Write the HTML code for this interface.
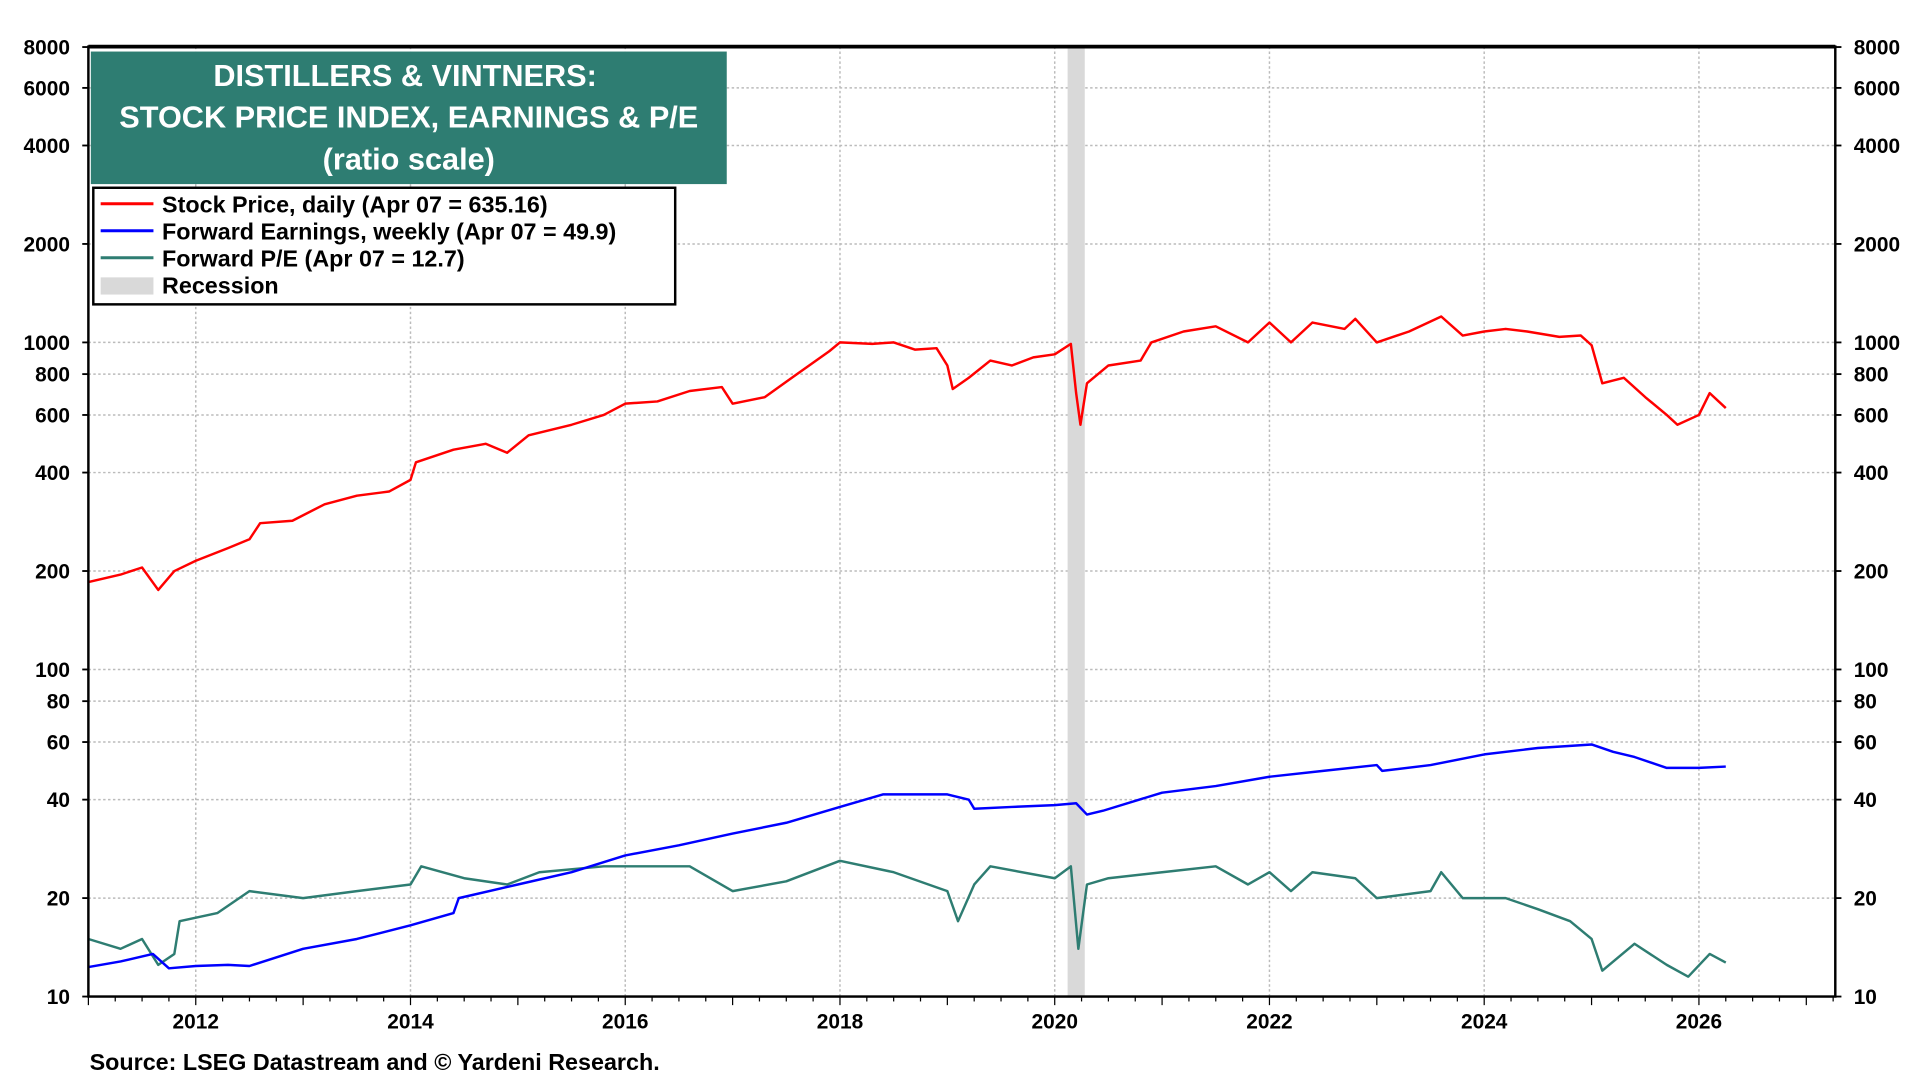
<!DOCTYPE html>
<html><head><meta charset="utf-8"><style>
html,body{margin:0;padding:0;background:#fff;width:1920px;height:1080px;overflow:hidden}
svg text{font-family:"Liberation Sans",Arial,sans-serif;font-weight:bold}
</style></head><body>
<svg id="chart" width="1920" height="1080" viewBox="0 0 1564 880" preserveAspectRatio="none" xmlns="http://www.w3.org/2000/svg">
<g id="grid"></g>
<rect id="rec" fill="#d9d9d9"/>
<g id="series"></g>
<rect x="72" y="38" width="1423" height="774" fill="none" stroke="#000" stroke-width="2"/>
<line x1="72" y1="38" x2="1495" y2="38" stroke="#000" stroke-width="3"/>
<g id="axes"></g>
<g>
<rect x="74" y="42" width="518" height="108" fill="#2e7d72"/>
<text x="330" y="70" fill="#fff" font-size="25" text-anchor="middle">DISTILLERS &amp; VINTNERS:</text>
<text x="333" y="104" fill="#fff" font-size="25" text-anchor="middle">STOCK PRICE INDEX, EARNINGS &amp; P/E</text>
<text x="333" y="138" fill="#fff" font-size="25" text-anchor="middle">(ratio scale)</text>
</g>
<g>
<rect x="76" y="153" width="474" height="95" fill="#fff" stroke="#000" stroke-width="2"/>
<line x1="82" y1="166" x2="125" y2="166" stroke="#ff0000" stroke-width="2.5"/>
<text x="132" y="173" font-size="19">Stock Price, daily (Apr 07 = 635.16)</text>
<line x1="82" y1="188" x2="125" y2="188" stroke="#0000ff" stroke-width="2.5"/>
<text x="132" y="195" font-size="19">Forward Earnings, weekly (Apr 07 = 49.9)</text>
<line x1="82" y1="210" x2="125" y2="210" stroke="#2e7d72" stroke-width="2.5"/>
<text x="132" y="217" font-size="19">Forward P/E (Apr 07 = 12.7)</text>
<rect x="82" y="226" width="43" height="14" fill="#d9d9d9"/>
<text x="132" y="239" font-size="19">Recession</text>
</g>
<text x="73" y="872" font-size="19">Source: LSEG Datastream and © Yardeni Research.</text>
</svg>
<script>
const priceX=[2011.0,2011.3,2011.5,2011.65,2011.8,2012.0,2012.3,2012.5,2012.6,2012.9,2013.2,2013.5,2013.8,2014.0,2014.05,2014.4,2014.7,2014.9,2015.1,2015.5,2015.8,2016.0,2016.3,2016.6,2016.9,2017.0,2017.3,2017.6,2017.9,2018.0,2018.3,2018.5,2018.7,2018.9,2019.0,2019.05,2019.2,2019.4,2019.6,2019.8,2020.0,2020.15,2020.2,2020.24,2020.3,2020.5,2020.8,2020.9,2021.2,2021.5,2021.8,2022.0,2022.2,2022.4,2022.7,2022.8,2023.0,2023.3,2023.6,2023.8,2024.0,2024.2,2024.4,2024.7,2024.9,2025.0,2025.1,2025.3,2025.5,2025.7,2025.8,2026.0,2026.1,2026.25];
const priceY=[185,195,205,175,200,215,235,250,280,285,320,340,350,380,430,470,490,460,520,560,600,650,660,710,730,650,680,800,940,1000,990,1000,950,960,850,720,780,880,850,900,920,990,700,560,750,850,880,1000,1080,1120,1000,1150,1000,1150,1100,1180,1000,1080,1200,1050,1080,1100,1080,1040,1050,980,750,780,680,600,560,600,700,630];
const earnX=[2011.0,2011.3,2011.6,2011.75,2012.0,2012.3,2012.5,2013.0,2013.5,2014.0,2014.4,2014.45,2015.0,2015.5,2016.0,2016.5,2017.0,2017.5,2018.0,2018.4,2018.8,2019.0,2019.2,2019.25,2019.6,2020.0,2020.2,2020.3,2020.45,2021.0,2021.5,2022.0,2022.5,2023.0,2023.05,2023.5,2024.0,2024.5,2025.0,2025.2,2025.4,2025.7,2026.0,2026.25];
const earnY=[12.3,12.8,13.5,12.2,12.4,12.5,12.4,14,15,16.5,18,20,22,24,27,29,31.5,34,38,41.5,41.5,41.5,40,37.5,38,38.5,39,36,37,42,44,47,49,51,49,51,55,57.5,59,56,54,50,50,50.5];
const peX=[2011.0,2011.3,2011.5,2011.65,2011.8,2011.85,2012.2,2012.5,2013.0,2013.5,2014.0,2014.1,2014.5,2014.9,2015.2,2015.8,2016.0,2016.6,2017.0,2017.5,2018.0,2018.5,2019.0,2019.1,2019.25,2019.4,2020.0,2020.15,2020.22,2020.3,2020.5,2021.0,2021.5,2021.8,2022.0,2022.2,2022.4,2022.8,2023.0,2023.5,2023.6,2023.8,2024.2,2024.5,2024.8,2025.0,2025.1,2025.4,2025.7,2025.9,2026.1,2026.25];
const peY=[15,14,15,12.5,13.5,17,18,21,20,21,22,25,23,22,24,25,25,25,21,22.5,26,24,21,17,22,25,23,25,14,22,23,24,25,22,24,21,24,23,20,21,24,20,20,18.5,17,15,12,14.5,12.5,11.5,13.5,12.7];
const yTicks=[10,20,40,60,80,100,200,400,600,800,1000,2000,4000,6000,8000];
const xTicks=[2012,2014,2016,2018,2020,2022,2024,2026];
const recession=[2020.12,2020.28];

const L=72,R=1495,T=38,B=812,X0=2011.0,X1=2027.27;
const xs=v=>L+(v-X0)/(X1-X0)*(R-L);
const ys=v=>812-(Math.log10(v)-1)*266.5;
const NS="http://www.w3.org/2000/svg";
function mk(tag,attrs,parent){const e=document.createElementNS(NS,tag);for(const k in attrs)e.setAttribute(k,attrs[k]);parent.appendChild(e);return e;}
const grid=document.getElementById('grid'),axes=document.getElementById('axes'),ser=document.getElementById('series');
yTicks.forEach(v=>{
  const y=ys(v);
  const gl=mk('line',{x1:L,x2:R,y1:y,y2:y,stroke:'#bbb','stroke-width':1.2,'stroke-dasharray':'2,2'},grid);
  
  
  const t1=mk('text',{x:57,y:y+6,'font-size':17,'text-anchor':'end'},axes);t1.textContent=v;
  
  
  const t2=mk('text',{x:1510,y:y+6,'font-size':17},axes);t2.textContent=v;
  
  
  mk('line',{x1:L-5,x2:L,y1:y,y2:y,stroke:'#000','stroke-width':1.5},axes);
  mk('line',{x1:R,x2:R+5,y1:y,y2:y,stroke:'#000','stroke-width':1.5},axes);
});
xTicks.forEach(v=>{
  const x=xs(v);
  const gl=mk('line',{x1:x,x2:x,y1:T,y2:B,stroke:'#bbb','stroke-width':1.2,'stroke-dasharray':'2,2'},grid);
  
  
  const t=mk('text',{x:x,y:838,'font-size':17,'text-anchor':'middle'},axes);t.textContent=v;
  
  
});
for(let yr=2011;yr<=2027;yr++){for(let q=0;q<4;q++){const x=xs(yr+q/4);if(x<L||x>R)continue;mk('line',{x1:x,x2:x,y1:B,y2:B+(q==0?7:4),stroke:'#000','stroke-width':1},axes);}}
const rec=document.getElementById('rec');
rec.setAttribute('x',xs(recession[0]));rec.setAttribute('width',xs(recession[1])-xs(recession[0]));rec.setAttribute('y',T);rec.setAttribute('height',B-T);
function line(X,Y,color,name){
  const d=X.map((x,i)=>(i?'L':'M')+xs(x).toFixed(1)+','+ys(Y[i]).toFixed(1)).join('');
  const p=mk('path',{d:d,fill:'none',stroke:color,'stroke-width':2,'stroke-linejoin':'round'},ser);
  
  
}
line(peX,peY,'#2e7d72','pe-line');
line(earnX,earnY,'#0000ff','earnings-line');
line(priceX,priceY,'#ff0000','price-line');
</script>
</body></html>
